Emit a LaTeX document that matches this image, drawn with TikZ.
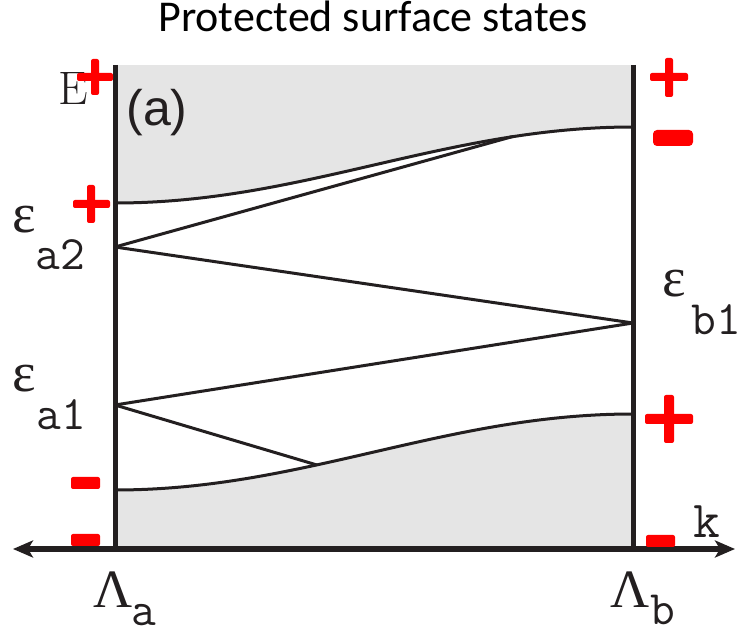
\documentclass[tikz,border=0pt]{standalone}
\usepackage{fontspec}
\newfontfamily\titlefont{Carlito}
\newfontfamily\labelsans{Liberation Sans}
\newfontfamily\greekserif{Liberation Serif}
\usetikzlibrary{arrows.meta}
\definecolor{inkc}{HTML}{231F20}
\definecolor{bandc}{HTML}{E5E5E5}
\definecolor{signred}{HTML}{FF0000}
\begin{document}
\begin{tikzpicture}[x=1pt,y=-1pt,
  wall/.style={draw=inkc,line width=5pt},
  axisline/.style={draw=inkc,line width=6pt,{Stealth[length=20pt,width=17pt,inset=5pt]}-{Stealth[length=20pt,width=17pt,inset=5pt]}},
  bandedge/.style={draw=inkc,line width=3pt},
  stateline/.style={draw=inkc,line width=3pt},
  signmark/.style={fill=signred,rounded corners=2pt},
  lbl/.style={inner sep=0pt,anchor=base,text=inkc},
  ttl/.style={inner sep=0pt,anchor=base,font=\titlefont\fontsize{44}{48}\selectfont},
  mono/.style={lbl,font=\ttfamily\fontsize{48}{52}\selectfont},
  greek/.style={lbl,font=\greekserif\fontsize{56}{60}\selectfont},
  biglam/.style={lbl,font=\greekserif\fontsize{54}{58}\selectfont}]
\useasboundingbox (0,0) rectangle (740,636);

% title
\node[ttl] (title) at (373,32) {Protected surface states};

% band regions
\fill[bandc] (115,65) rectangle (633,549);
\fill[white] plot[domain=0:1,samples=80] ({115+518*\x},{165+38*cos(180*\x)})
  -- plot[domain=1:0,samples=80] ({115+518*\x},{452+38*cos(180*\x)}) -- cycle;

% band edges
\draw[bandedge] plot[domain=0:1,samples=80] ({115+518*\x},{165+38*cos(180*\x)});
\draw[bandedge] plot[domain=0:1,samples=80] ({115+518*\x},{452+38*cos(180*\x)});

% state points
\coordinate (Ea2) at (115,247);
\coordinate (Ea1) at (115,405);
\coordinate (Eb1) at (633,323);
\coordinate (Mu) at (512.1,136.7);
\coordinate (Ml) at (316.6,464.9);

\draw[stateline] (Ea2) -- (Mu);
\draw[stateline] (Ea2) -- (Eb1);
\draw[stateline] (Ea1) -- (Eb1);
\draw[stateline] (Ea1) -- (Ml);

% walls and axis
\coordinate (LaTop) at (115,65);
\coordinate (LaBot) at (115,549);
\coordinate (LbTop) at (633,65);
\coordinate (LbBot) at (633,549);
\coordinate (AxL) at (13,549);
\coordinate (AxR) at (735,549);
\draw[wall] (LaTop) -- (LaBot);
\draw[wall] (LbTop) -- (LbBot);
\draw[axisline] (AxL) -- (AxR);

% labels
\node[lbl,font=\fontsize{47}{50}\selectfont] (Elab) at (73,105) {E};
\node[lbl,font=\labelsans\fontsize{50}{54}\selectfont] (alab) at (157,126) {(a)};
\node[greek] (ea2) at (24,233) {ε};
\node[mono] (sa2) at (60,270) {a2};
\node[greek] (ea1) at (24,392) {ε};
\node[mono] (sa1) at (61,430) {a1};
\node[greek] (eb1) at (674,297) {ε};
\node[mono] (sb1) at (716,335) {b1};
\node[biglam] (La) at (113,608) {Λ};
\node[mono] (sLa) at (144,626) {a};
\node[biglam] (Lb) at (630,608) {Λ};
\node[mono] (sLb) at (663,624) {b};
\node[mono,font=\ttfamily\fontsize{52}{56}\selectfont] (klab) at (707,538) {k};

% red parity signs
\fill[signmark] (77,73) rectangle (113,81);
\fill[signmark] (91,59) rectangle (99,95);
\fill[signmark] (73,200) rectangle (110,208);
\fill[signmark] (87,185) rectangle (95,223);
\fill[signmark] (650,73) rectangle (688,81);
\fill[signmark] (665,58) rectangle (673,97);
\fill[signmark,rounded corners=4pt] (653,130) rectangle (693,146);
\fill[signmark] (645,414) rectangle (693,424);
\fill[signmark] (664,395) rectangle (674,443);
\fill[signmark] (71,477) rectangle (100,489);
\fill[signmark] (71,534) rectangle (100,546);
\fill[signmark] (646,535) rectangle (675,547);
\end{tikzpicture}
\end{document}
